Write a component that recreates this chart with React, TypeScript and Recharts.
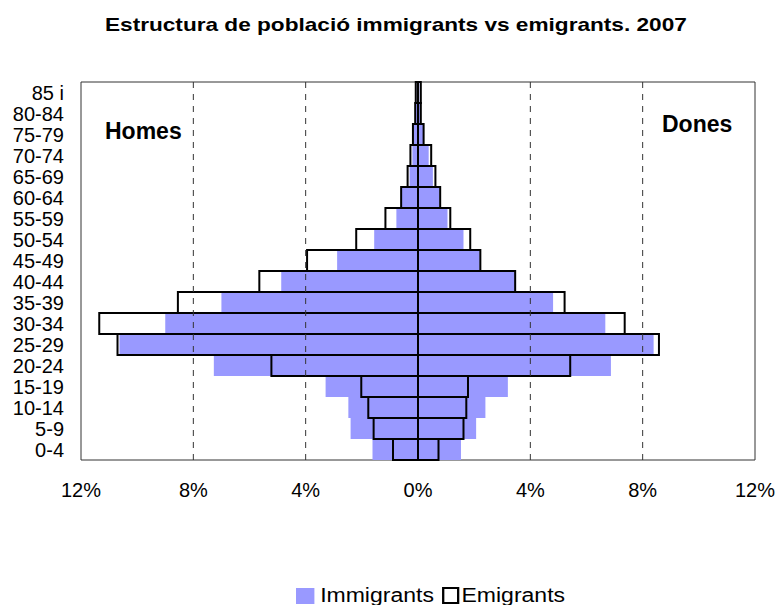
import { Bar, BarChart, ReferenceArea, ReferenceLine, XAxis, YAxis } from "recharts";

// age groups, bottom to top
const ageGroups = ["0-4", "5-9", "10-14", "15-19", "20-24", "25-29", "30-34", "35-39", "40-44", "45-49", "50-54", "55-59", "60-64", "65-69", "70-74", "75-79", "80-84", "85 i"];

// % of total
const menImmigrants = [1.62, 2.4, 2.48, 3.29, 7.27, 10.63, 9.0, 7.0, 4.87, 2.88, 1.56, 0.77, 0.6, 0.3, 0.2, 0.15, 0.1, 0.05];
const menEmigrants = [0.89, 1.58, 1.77, 2.02, 5.22, 10.7, 11.35, 8.55, 5.65, 3.95, 2.2, 1.16, 0.6, 0.37, 0.27, 0.18, 0.1, 0.08];
const womenImmigrants = [1.53, 2.07, 2.4, 3.2, 6.87, 8.39, 6.67, 4.81, 3.45, 2.2, 1.62, 1.05, 0.77, 0.53, 0.38, 0.2, 0.1, 0.05];
const womenEmigrants = [0.73, 1.62, 1.72, 1.78, 5.42, 8.58, 7.36, 5.22, 3.46, 2.22, 1.86, 1.15, 0.79, 0.62, 0.47, 0.2, 0.1, 0.1];

const xTicks = [-12, -8, -4, 0, 4, 8, 12];
const gridLines = [-8, -4, 4, 8];

const data = ageGroups.map((age, i) => ({
  age,
  menImm: -menImmigrants[i],
  womenImm: womenImmigrants[i],
  menEmi: -menEmigrants[i],
  womenEmi: womenEmigrants[i],
}));

const font = "'Liberation Sans', Arial, sans-serif";
const stretch = { display: "inline-block", transformOrigin: "left top" } as const;

export default function App() {
  return (
    <div style={{ position: "absolute", left: 0, top: 0, width: 775, height: 605, background: "#fff", fontFamily: font }}>
      <div style={{ position: "absolute", left: 105, top: 14, fontWeight: "bold", fontSize: 19, whiteSpace: "nowrap" }}>
        <span style={{ ...stretch, transform: "scaleX(1.19)" }}>Estructura de població immigrants vs emigrants. 2007</span>
      </div>
      <BarChart
        width={775}
        height={605}
        data={data}
        layout="vertical"
        stackOffset="sign"
        barCategoryGap={0}
        margin={{ top: 82, right: 20, bottom: 115, left: 0 }}
      >
        <XAxis
          type="number"
          domain={[-12, 12]}
          ticks={xTicks}
          tickFormatter={(v: number) => `${Math.abs(v)}%`}
          axisLine={false}
          tickLine={false}
          tickSize={0}
          tickMargin={23}
          tick={{ fill: "#000", fontSize: 20, fontFamily: font }}
          height={30}
        />
        <YAxis
          yAxisId="imm"
          type="category"
          dataKey="age"
          reversed
          width={81}
          axisLine={false}
          tickLine={false}
          tickSize={0}
          tickMargin={17}
          interval={0}
          tick={{ fill: "#000", fontSize: 20, fontFamily: font }}
        />
        <YAxis yAxisId="emi" type="category" dataKey="age" reversed hide width={0} />
        <ReferenceArea yAxisId="imm" x1={-12} x2={12} fill="none" stroke="#333" strokeWidth={1} />
        {gridLines.map((g) => (
          <ReferenceLine key={g} yAxisId="imm" x={g} stroke="#333" strokeDasharray="6 6" />
        ))}
        <Bar yAxisId="imm" dataKey="menImm" stackId="imm" fill="#9999FF" isAnimationActive={false} />
        <Bar yAxisId="imm" dataKey="womenImm" stackId="imm" fill="#9999FF" isAnimationActive={false} />
        <Bar yAxisId="emi" dataKey="menEmi" stackId="emi" fill="none" stroke="#000" strokeWidth={2} isAnimationActive={false} />
        <Bar yAxisId="emi" dataKey="womenEmi" stackId="emi" fill="none" stroke="#000" strokeWidth={2} isAnimationActive={false} />
      </BarChart>
      <div style={{ position: "absolute", left: 105, top: 118, fontWeight: "bold", fontSize: 23 }}>Homes</div>
      <div style={{ position: "absolute", left: 662, top: 111, fontWeight: "bold", fontSize: 23 }}>Dones</div>
      <div style={{ position: "absolute", left: 296, top: 584, fontSize: 20, whiteSpace: "nowrap" }}>
        <span style={{ ...stretch, transform: "scaleX(1.15)", display: "flex", alignItems: "center" }}>
          <span style={{ display: "inline-block", width: 16, height: 16, background: "#9999FF", marginRight: 5 }} />
          <span>Immigrants</span>
          <span style={{ display: "inline-block", width: 11, height: 13, border: "2px solid #000", marginLeft: 7, marginRight: 2 }} />
          <span>Emigrants</span>
        </span>
      </div>
    </div>
  );
}
